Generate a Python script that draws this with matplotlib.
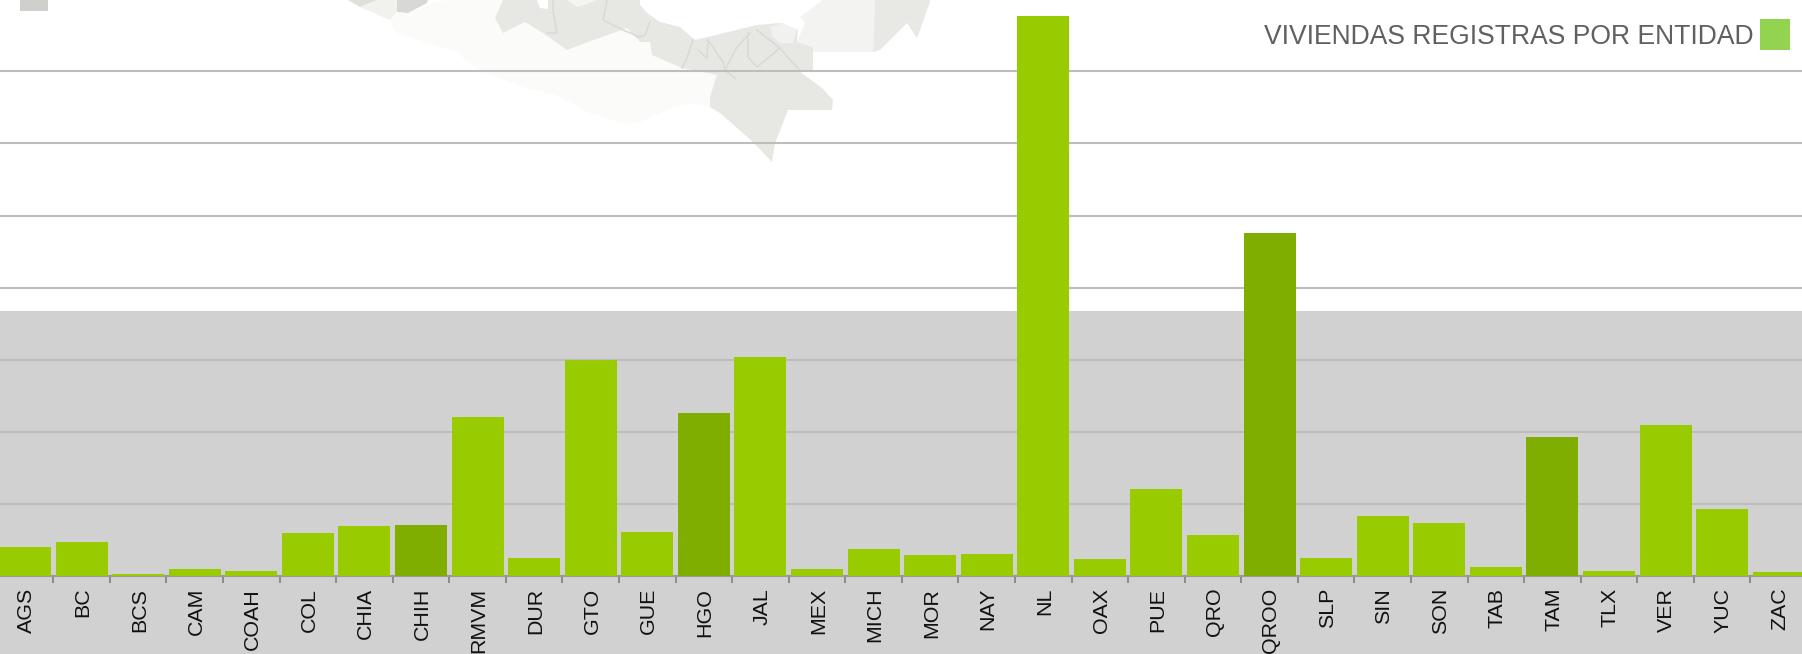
import matplotlib
matplotlib.use('Agg')
import matplotlib.pyplot as plt
from matplotlib.patches import Polygon, Rectangle
from matplotlib.transforms import ScaledTranslation

plt.rcParams['font.family'] = ['Liberation Sans', 'DejaVu Sans']

estados = ['AGS', 'BC', 'BCS', 'CAM', 'COAH', 'COL', 'CHIA', 'CHIH', 'RMVM', 'DUR', 'GTO',
           'GUE', 'HGO', 'JAL', 'MEX', 'MICH', 'MOR', 'NAY', 'NL', 'OAX', 'PUE', 'QRO',
           'QROO', 'SLP', 'SIN', 'SON', 'TAB', 'TAM', 'TLX', 'VER', 'YUC', 'ZAC']
viviendas = [398, 467, 28, 97, 74, 600, 689, 707, 2205, 250, 2996,
             610, 2266, 3032, 101, 370, 291, 305, 7767, 232, 1200, 569,
             4757, 245, 828, 735, 125, 1932, 74, 2094, 925, 55]
oscuros = ['CHIH', 'HGO', 'QROO', 'TAM']
rejilla = [1000, 2000, 3000, 4000, 5000, 6000, 7000]
leyenda = 'VIVIENDAS REGISTRAS POR ENTIDAD'

# background map, in image pixels
mapa_claro = [(390, 22), (397, 33), (440, 47), (453, 50), (480, 70), (523, 87), (557, 95), (587, 112),
              (627, 125), (640, 122), (673, 107), (693, 103), (710, 107), (717, 75), (682, 68), (652, 55),
              (650, 42), (640, 42), (627, 28), (588, 42), (567, 50), (543, 33), (525, 22), (503, 33),
              (495, 18), (503, 0), (447, 0), (427, 5), (410, 13), (398, 13)]
mapa_medio = [(503, 0), (495, 18), (503, 33), (525, 22), (543, 33), (567, 50), (588, 42), (627, 28),
              (640, 42), (650, 42), (652, 55), (682, 68), (717, 75), (710, 97), (710, 107), (720, 113),
              (753, 142), (772, 162), (775, 143), (788, 110), (832, 110), (833, 100), (822, 88), (800, 72),
              (813, 70), (813, 47), (797, 42), (798, 30), (780, 23), (757, 25), (728, 32), (695, 40),
              (680, 27), (660, 22), (647, 13), (640, 5), (640, 0)]
mapa_yuc = [(823, 0), (800, 17), (805, 23), (797, 42), (813, 47), (813, 52), (873, 52), (875, 0)]
mapa_qroo = [(875, 0), (873, 52), (880, 50), (907, 23), (917, 38), (930, 2), (930, 0)]
mapa_izq1 = [(348, 0), (360, 7), (377, 0)]
mapa_izq2 = [(360, 7), (377, 0), (397, 0), (397, 12), (390, 20)]
mapa_izq3 = [(397, 0), (397, 12), (408, 13), (427, 3), (428, 0)]
mapa_blanco = [(537, 0), (540, 8), (548, 9), (548, 0)]
mapa_tenue = [(567, 0), (577, 7), (590, 3), (597, 0)]
mapa_isla = [(770, 27), (783, 23), (797, 30), (793, 43), (780, 43), (773, 37)]
fronteras = [[(553, 0), (553, 10), (557, 33), (547, 33)],
             [(607, 0), (603, 20), (623, 30), (640, 37)],
             [(693, 40), (687, 58), (682, 68)],
             [(698, 50), (707, 58), (708, 40)],
             [(708, 40), (723, 62), (725, 70), (737, 47), (750, 33)],
             [(725, 70), (735, 78)],
             [(748, 33), (748, 57), (757, 67), (780, 48), (790, 60), (800, 70)],
             [(757, 30), (780, 48)],
             [(650, 22), (645, 35), (640, 37)]]

fig = plt.figure(figsize=(18.02, 6.54), dpi=100)

fondo = fig.add_axes([0, 0, 1, 1])
fondo.set_xlim(0, 1802)
fondo.set_ylim(654, 0)
fondo.axis('off')
fondo.add_patch(Rectangle((0, 311), 1802, 343, color='#d1d1d1', lw=0))
fondo.add_patch(Rectangle((20, 0), 28, 11, color='#cfcfcb', lw=0))
fondo.add_patch(Rectangle((1760, 19), 30, 31, color='#92d34f', lw=0))
for puntos, color in [(mapa_claro, '#fbfbfa'), (mapa_medio, '#e7e7e4'), (mapa_yuc, '#f3f3f1'),
                      (mapa_qroo, '#e8e8e5'), (mapa_izq1, '#dededb'), (mapa_izq2, '#f1f1ee'),
                      (mapa_izq3, '#d8d8d5'), (mapa_blanco, '#ffffff'), (mapa_tenue, '#f4f4f2'),
                      (mapa_isla, '#f1f1ef')]:
    fondo.add_patch(Polygon(puntos, closed=True, color=color, lw=0))
for linea in fronteras:
    fondo.plot(*zip(*linea), color='#d9d9d6', lw=1.1)

ax = fig.add_axes([0, 78 / 654, 1, 576 / 654])
ax.patch.set_alpha(0)
ax.set_xlim(-25 / 56.57, (1802 - 25) / 56.57)
ax.set_ylim(0, 576 / 72.1 * 1000)

colores = ['#80ae00' if e in oscuros else '#99cc00' for e in estados]
ax.bar(range(len(estados)), viviendas, width=0.92, color=colores, zorder=3)

ax.set_yticks(rejilla)
ax.yaxis.grid(True, color='#bdbdbd', lw=1.5, zorder=1)
ax.tick_params(axis='y', left=False, labelleft=False)

ax.set_xticks([i + 0.5 for i in range(len(estados) - 1)])
ax.set_xticklabels([])
ax.set_xticks(range(len(estados)), minor=True)
ax.set_xticklabels(estados, minor=True)
ax.tick_params(axis='x', which='major', length=5, width=1.4, color='#8c8c8c')
ax.tick_params(axis='x', which='minor', length=0, pad=8.5, labelsize=15.4, labelrotation=90,
               labelcolor='#111111')
desplaza = ScaledTranslation(1.3 / 100, 0, fig.dpi_scale_trans)
for etiqueta in ax.get_xticklabels(minor=True):
    etiqueta.set_va('top')
    etiqueta.set_ha('center')
    etiqueta.set_transform(etiqueta.get_transform() + desplaza)

for lado in ['top', 'left', 'right']:
    ax.spines[lado].set_visible(False)
ax.spines['bottom'].set_color('#999999')
ax.spines['bottom'].set_linewidth(1.5)
ax.set_axisbelow(True)

fig.text(1754 / 1802, 1 - 37 / 654, leyenda, ha='right', va='center', fontsize=19.1, color='#606060')

fig.savefig('out.png', dpi=100)
